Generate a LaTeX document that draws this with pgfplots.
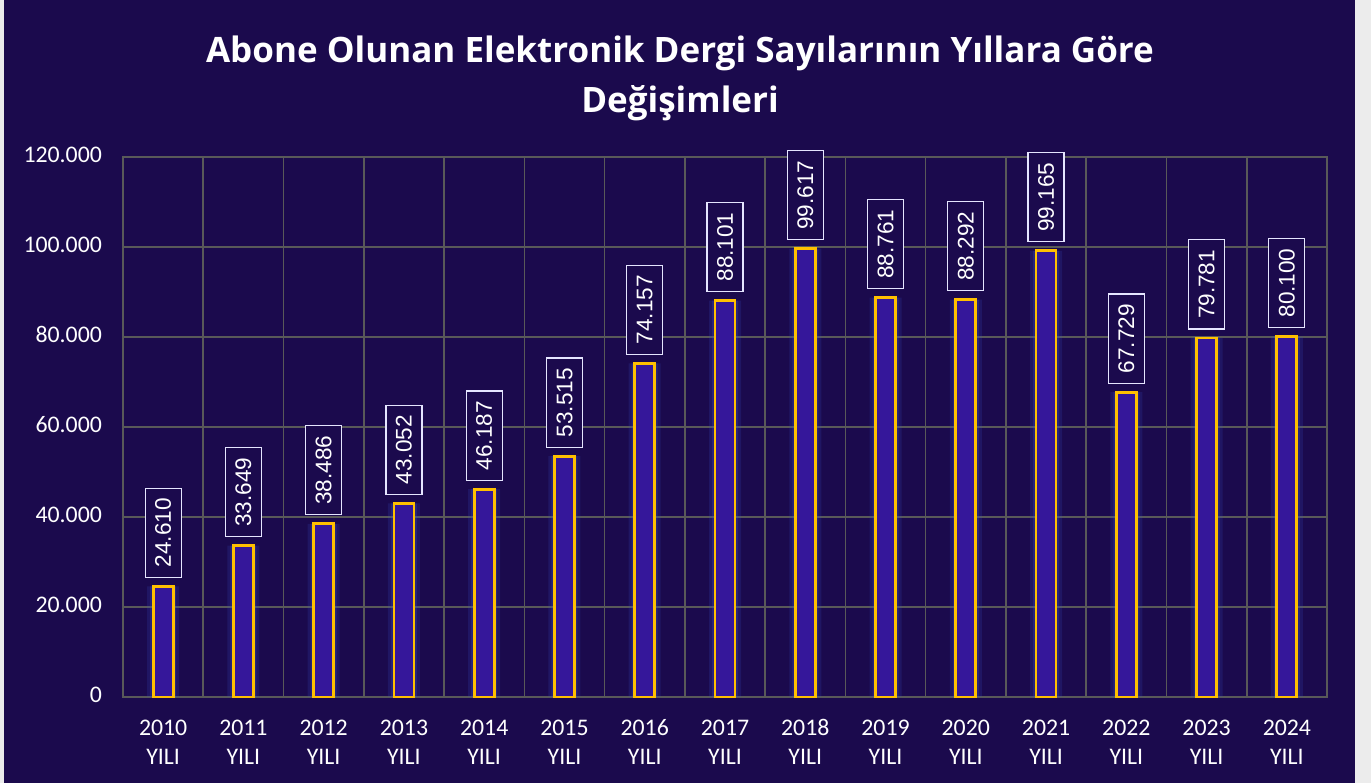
\documentclass[border=0pt]{standalone}
\usepackage{pgfplots}
\pgfplotsset{compat=1.18}
\usepackage{pgfplotstable}
\usepackage{fontspec}
\setmainfont{Carlito}
\newfontfamily\titlefont{Open Sans}
\newfontfamily\labelfont{Liberation Sans}
\definecolor{bg}{HTML}{1B0A4D}
\definecolor{barfill}{HTML}{35179A}
\definecolor{baredge}{HTML}{FFC000}
\definecolor{gridc}{HTML}{595959}
\definecolor{glow}{HTML}{3A4FC8}
\pgfplotstableread{
x y label
0 24610 24.610
1 33649 33.649
2 38486 38.486
3 43052 43.052
4 46187 46.187
5 53515 53.515
6 74157 74.157
7 88101 88.101
8 99617 99.617
9 88761 88.761
10 88292 88.292
11 99165 99.165
12 67729 67.729
13 79781 79.781
14 80100 80.100
}\datatable
\begin{document}
\begin{tikzpicture}[x=0.5pt,y=0.5pt]
\fill[white!85!gray] (0,0) rectangle (1371,783);
\fill[bg] (4,0) rectangle (1355,783);
\node[text=white, align=center, font=\titlefont\bfseries\fontsize{17.5}{25}\selectfont] at (680,705) {Abone Olunan Elektronik Dergi Sayılarının Yıllara Göre\\Değişimleri};
\begin{axis}[
  at={(61.5pt,43pt)}, anchor=south west,
  scale only axis, width=602pt, height=270pt,
  xmin=-0.5, xmax=14.5, ymin=0, ymax=120000,
  ybar,
  scaled y ticks=false,
  axis line style={gridc, line width=0.8pt},
  xtick={0,...,14},
  xticklabels={2010\\YILI,2011\\YILI,2012\\YILI,2013\\YILI,2014\\YILI,2015\\YILI,2016\\YILI,2017\\YILI,2018\\YILI,2019\\YILI,2020\\YILI,2021\\YILI,2022\\YILI,2023\\YILI,2024\\YILI},
  xticklabel style={anchor=north, align=center, text=white, font=\fontsize{11.9}{14.5}\selectfont, yshift=-5.5pt},
  typeset ticklabels with strut,
  minor xtick={-0.5,0.5,...,14.5},
  xminorgrids, minor grid style={gridc, line width=0.8pt},
  ytick={0,20000,40000,60000,80000,100000,120000},
  yticklabels={0,20.000,40.000,60.000,80.000,100.000,120.000},
  yticklabel style={text=white, font=\fontsize{11.9}{14}\selectfont, xshift=-7pt},
  ymajorgrids, major grid style={gridc, line width=0.8pt},
  major tick length=0pt, minor tick length=0pt,
  tick style={draw=none},
  clip=false,
]
\addplot[bar shift=0pt, bar width=16pt, fill=glow, fill opacity=0.18, draw=none] table[x=x,y=y] {\datatable};
\addplot[bar shift=0pt, bar width=13pt, fill=glow, fill opacity=0.25, draw=none] table[x=x,y=y] {\datatable};
\addplot[bar shift=0pt, bar width=10pt, fill=barfill, draw=baredge, line width=1.4pt,
  point meta=explicit symbolic,
  nodes near coords,
  nodes near coords style={rotate=90, anchor=west, text=white, font=\labelfont\fontsize{11.3}{13}\selectfont,
    draw=white!90!blue, line width=0.6pt, fill=bg, inner xsep=5pt, inner ysep=5pt, outer xsep=4.5pt, outer ysep=0pt}
] table[x=x,y=y,meta=label] {\datatable};
\end{axis}
\end{tikzpicture}
\end{document}
